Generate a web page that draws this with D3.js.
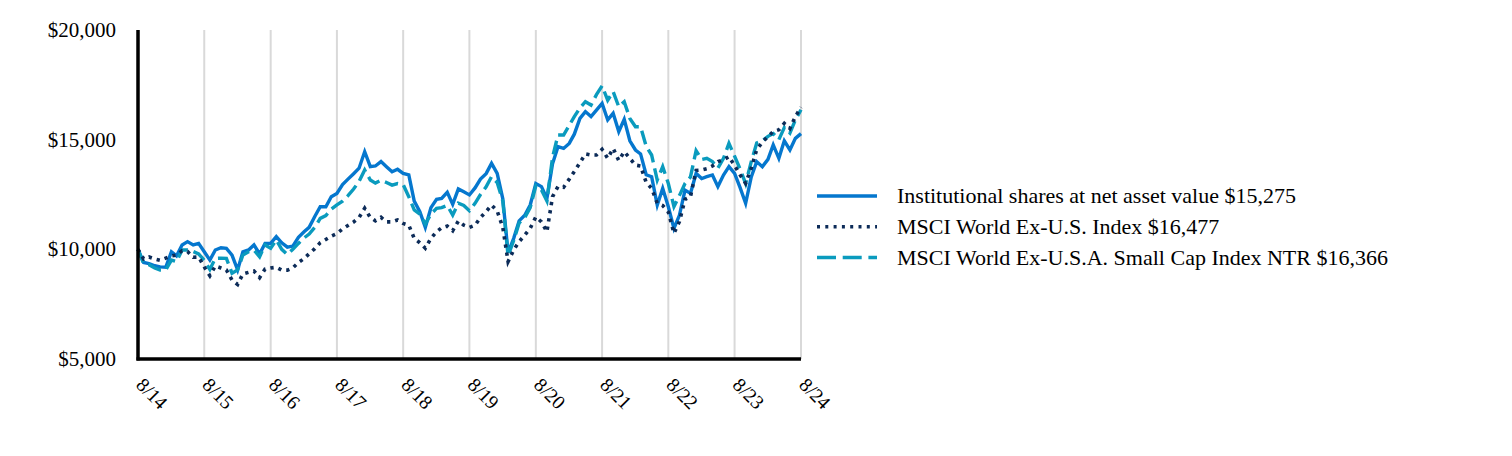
<!DOCTYPE html>
<html><head><meta charset="utf-8">
<script src="https://cdn.jsdelivr.net/npm/d3@7"></script>
<style>
html,body{margin:0;padding:0;background:#fff;}
svg text{font-family:"Liberation Serif","Times New Roman",serif;fill:#000;}
</style></head>
<body><svg id="chart" width="1512" height="456"></svg>
<script>
const startMonth = "2014-08";
const endMonth = "2024-08";
const xTickLabels = ["8/14","8/15","8/16","8/17","8/18","8/19","8/20","8/21","8/22","8/23","8/24"];
const yTickValues = [5000,10000,15000,20000];
const seriesNames = ["Institutional shares at net asset value $15,275","MSCI World Ex-U.S. Index $16,477","MSCI World Ex-U.S.A. Small Cap Index NTR $16,366"];

const institutional = [10000,9400,9350,9250,9200,9180,9890,9700,10200,10350,10200,10270,9890,9510,9970,10075,10045,9740,9060,9890,9970,10200,9790,10270,10270,10580,
10300,10100,10150,10550,10800,11000,11500,11940,11940,12400,12550,12950,13200,13450,13700,14450,13770,13800,14000,13770,13540,13650,13460,13390,12200,
11720,11000,11900,12280,12320,12600,12050,12750,12620,12480,12800,13200,13450,13920,13460,12300,9850,10500,11300,11550,12020,13000,12860,12320,
13900,14680,14600,14830,15250,15970,16280,16050,16350,16650,15900,16200,15370,15930,14950,14530,14350,13400,13310,12020,12780,
11940,10950,11550,12700,12550,13460,13230,13310,13390,12860,13390,13770,13460,12800,12100,13300,14000,13770,14100,14760,14150,14950,14530,15060,15275];

const msciWorld = [10000,9560,9650,9560,9500,9600,9700,9740,9940,9900,9640,9650,9200,8800,9240,9150,9060,8600,8400,8880,8950,9010,8710,9100,9150,9180,
9050,9050,9150,9400,9580,9800,10030,10300,10450,10600,10720,10930,11090,11250,11450,11870,11450,11300,11460,11250,11250,11340,11180,11100,10500,
10300,10050,10500,10800,10980,11060,10850,11290,11100,11000,11100,11450,11720,12020,11750,11000,9440,9970,10350,10650,10960,11480,11250,10800,
12400,12860,12830,13200,13550,13950,14350,14300,14300,14560,14150,14600,14050,14450,14150,13840,13800,13050,12780,12100,12000,
11700,10730,11260,12280,12400,13600,13620,13680,13800,14000,14080,14230,13820,13390,13010,13700,14550,14880,15150,15370,15450,15740,15510,16050,16477];

const smallCap = [10000,9350,9300,9150,9060,9060,9510,9440,9970,9970,9900,9790,9500,9080,9590,9600,9590,8910,9060,9740,9890,9970,9660,10200,10050,10430,
10000,9770,10000,10270,10520,10700,11000,11410,11540,11830,12030,12200,12450,12750,13100,13620,13160,13020,13150,13050,12930,13000,12950,12400,11800,
11610,11150,11600,11870,11900,12000,11560,12100,12000,11760,12100,12500,12850,13310,13050,12200,9700,10400,11200,11450,11900,12900,12700,12200,
14200,15210,15210,15650,16050,16450,16730,16580,17050,17450,16800,17190,16500,16730,15970,15590,15590,14700,14300,13160,13770,
13000,11950,12450,13000,13300,14500,14100,14150,14000,13700,14150,14830,14250,13650,13000,14000,14850,14950,15150,15280,15000,15550,15300,15900,16366];

const parse = d3.timeParse("%Y-%m");
const months = d3.timeMonth.range(parse(startMonth), d3.timeMonth.offset(parse(endMonth),1));

const svg = d3.select("#chart");
const mLeft = 138, mRight = 801, mTop = 30, mBottom = 359;
const x = d3.scaleTime().domain([parse(startMonth), parse(endMonth)]).range([mLeft, mRight]);
const y = d3.scaleLinear().domain([5000,20000]).range([mBottom, mTop]);

const tickDates = d3.timeYear.every(1).range(parse("2014-01"), parse("2025-01")).map(d => d3.timeMonth.offset(d,7));

// gridlines
svg.append("g").selectAll("line").data(tickDates.slice(1)).join("line")
  .attr("x1", d => x(d)).attr("x2", d => x(d))
  .attr("y1", mTop).attr("y2", mBottom)
  .attr("stroke", "#d9d9d9").attr("stroke-width", 2);

// y labels
svg.append("g").selectAll("text").data(yTickValues).join("text")
  .attr("x", 116).attr("y", d => y(d)).attr("dy", "0.33em")
  .attr("text-anchor", "end").style("font-size", "21px")
  .text(d => "$" + d3.format(",")(d));

// x labels
svg.append("g").selectAll("text").data(tickDates).join("text")
  .attr("transform", d => `translate(${x(d)-3},${386}) rotate(45)`)
  .attr("text-anchor", "start").style("font-size", "19.5px")
  .text((d,i) => xTickLabels[i]);

const line = d3.line().x((d,i) => x(months[i])).y(d => y(d));

const styles = [
  {data: institutional, color: "#0577CE", width: 3.4, dash: null},
  {data: smallCap, color: "#0A9BBE", width: 3.4, dash: "14 6"},
  {data: msciWorld, color: "#0C2B58", width: 3.6, dash: "3.3 5"}
];
styles.forEach(s => {
  svg.append("path").datum(s.data).attr("d", line)
    .attr("fill", "none").attr("stroke", s.color).attr("stroke-width", s.width)
    .attr("stroke-linejoin", "miter").attr("stroke-dasharray", s.dash);
});

// axes lines
svg.append("line").attr("x1", mLeft).attr("x2", mLeft).attr("y1", mTop).attr("y2", mBottom+1.5)
  .attr("stroke", "#000").attr("stroke-width", 3.5);
svg.append("line").attr("x1", mLeft-1.5).attr("x2", mRight).attr("y1", mBottom).attr("y2", mBottom)
  .attr("stroke", "#000").attr("stroke-width", 3.5);

// legend
const legendItems = [
  {name: seriesNames[0], color: "#0577CE", dash: null, width: 3.5},
  {name: seriesNames[1], color: "#0C2B58", dash: "3 5.3", width: 3.5},
  {name: seriesNames[2], color: "#0A9BBE", dash: "19 6.7", width: 3.5}
];
const lg = svg.append("g");
legendItems.forEach((it, i) => {
  const yy = 196 + i * 30.7;
  lg.append("line").attr("x1", 817).attr("x2", 877).attr("y1", yy).attr("y2", yy)
    .attr("stroke", it.color).attr("stroke-width", it.width).attr("stroke-dasharray", it.dash);
  lg.append("text").attr("x", 897).attr("y", yy).attr("dy", "0.33em")
    .style("font-size", "22px").text(it.name);
});
</script></body></html>
